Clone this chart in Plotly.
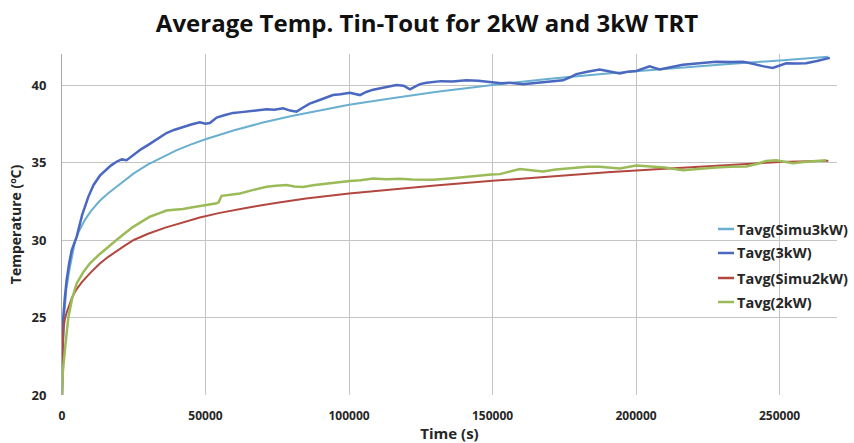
import plotly.graph_objects as go

# Simulated 3 kW response
t_simu3 = [0, 100, 300, 700, 1500, 2500, 3500, 4500, 6000, 8000, 10000, 13000, 16000,
           20000, 25000, 30000, 35000, 40000, 45000, 50000, 60000, 70000, 80000, 90000,
           100000, 115000, 130000, 150000, 170000, 190000, 210000, 230000, 250000, 267000]
T_simu3 = [20.0, 21.6, 23.0, 25.0, 26.8, 28.0, 29.0, 29.9, 30.6, 31.3, 31.85, 32.5, 33.0,
           33.6, 34.3, 34.88, 35.36, 35.8, 36.17, 36.5, 37.08, 37.58, 38.0, 38.38,
           38.72, 39.15, 39.55, 40.0, 40.4, 40.75, 41.05, 41.33, 41.58, 41.82]

# Measured 3 kW response
t_meas3 = [0, 150, 450, 1000, 1600, 2500, 3400, 5100, 7000, 9200, 11000, 13200, 15000,
           17000, 19000, 20800, 22500, 24800, 27500, 30600, 33500, 36400, 39000, 42200,
           45000, 48000, 50000, 51500, 53900, 56500, 59600, 62500, 65500, 68500, 71300,
           74000, 77000, 79500, 81700, 84000, 86300, 90000, 94400, 97000, 100300, 103800,
           106000, 108400, 112000, 116500, 119000, 121200, 123000, 124700, 127000, 132000,
           136000, 140900, 145000, 149600, 153000, 156000, 160600, 164000, 169900, 174500,
           177000, 179200, 183000, 187300, 190000, 194300, 197000, 200100, 204700, 208200,
           212000, 216300, 222000, 227900, 233000, 237200, 239500, 241800, 244500, 247600,
           250000, 252300, 256000, 259200, 263000, 266200, 267500]
T_meas3 = [20.0, 23.0, 25.05, 26.3, 27.4, 28.5, 29.35, 30.2, 31.6, 32.8, 33.55, 34.15, 34.45,
           34.8, 35.05, 35.2, 35.15, 35.5, 35.85, 36.2, 36.55, 36.9, 37.1, 37.3,
           37.45, 37.6, 37.5, 37.55, 37.9, 38.05, 38.2, 38.25, 38.3, 38.35, 38.43,
           38.4, 38.5, 38.35, 38.28, 38.55, 38.8, 39.05, 39.35, 39.4, 39.5, 39.35,
           39.55, 39.7, 39.85, 40.0, 39.95, 39.72, 39.9, 40.06, 40.15, 40.25,
           40.22, 40.3, 40.28, 40.2, 40.12, 40.15, 40.05, 40.12, 40.2, 40.3,
           40.5, 40.7, 40.85, 41.0, 40.9, 40.75, 40.85, 40.9, 41.2, 41.0,
           41.15, 41.3, 41.4, 41.5, 41.48, 41.5, 41.42, 41.3, 41.2, 41.1,
           41.25, 41.4, 41.38, 41.4, 41.55, 41.68, 41.75]

# Simulated 2 kW response
t_simu2 = [0, 50, 150, 300, 600, 1000, 1600, 2500, 3500, 5000, 7000, 9700, 13000, 16000,
           19000, 22000, 25000, 30000, 36000, 42000, 48000, 55000, 65000, 75000, 85000,
           100000, 115000, 130000, 150000, 170000, 190000, 210000, 230000, 250000, 267000]
T_simu2 = [20.0, 21.5, 22.6, 23.5, 24.4, 24.9, 25.3, 25.8, 26.3, 26.8, 27.3, 27.85, 28.45, 28.9,
           29.3, 29.65, 30.0, 30.4, 30.8, 31.15, 31.45, 31.75, 32.1, 32.4, 32.68,
           33.0, 33.28, 33.52, 33.82, 34.1, 34.37, 34.6, 34.82, 35.03, 35.12]

# Measured 2 kW response
t_meas2 = [0, 300, 1000, 2200, 3500, 5100, 7500, 9750, 13200, 16000, 19000, 22000, 24800,
           27500, 30600, 33500, 36400, 39000, 42200, 45000, 48000, 51000, 53900, 54600,
           55600, 58000, 62000, 66000, 71300, 74500, 78200, 81000, 84000, 88000, 92200,
           96000, 100300, 104000, 108400, 113000, 117700, 122000, 126000, 129300, 135100,
           140900, 146700, 149600, 152500, 156000, 159500, 163500, 167500, 172000, 176000,
           179200, 183000, 187300, 191000, 194300, 200100, 205000, 210000, 216300, 222000,
           227900, 233000, 238400, 242000, 245300, 248800, 251500, 254600, 259200, 263000,
           266200]
T_meas2 = [20.0, 21.5, 22.9, 25.0, 26.2, 27.2, 27.95, 28.5, 29.1, 29.55, 30.0, 30.45, 30.85,
           31.15, 31.5, 31.7, 31.9, 31.95, 32.0, 32.1, 32.2, 32.3, 32.37, 32.45,
           32.85, 32.9, 33.0, 33.2, 33.44, 33.5, 33.55, 33.45, 33.42, 33.55, 33.65,
           33.72, 33.8, 33.85, 33.97, 33.92, 33.95, 33.9, 33.88, 33.88, 33.97,
           34.08, 34.2, 34.22, 34.25, 34.4, 34.58, 34.5, 34.42, 34.55, 34.62,
           34.7, 34.72, 34.72, 34.65, 34.62, 34.8, 34.75, 34.68, 34.5, 34.6,
           34.67, 34.72, 34.75, 34.9, 35.1, 35.15, 35.05, 34.95, 35.05, 35.1,
           35.15]

series_names = ["Tavg(Simu3kW)", "Tavg(3kW)", "Tavg(Simu2kW)", "Tavg(2kW)"]
series_colors = ["#6aafd0", "#4a68c0", "#b2473f", "#9bbb59"]
series_widths = [2, 2.5, 2, 2.5]
series_data = [(t_simu3, T_simu3), (t_meas3, T_meas3), (t_simu2, T_simu2), (t_meas2, T_meas2)]

x_ticks = [0, 50000, 100000, 150000, 200000, 250000]
y_ticks = [20, 25, 30, 35, 40]

FONT = "Open Sans, sans-serif"
TEXT = "#262626"

fig = go.Figure()
for name, color, width, (tx, ty) in zip(series_names, series_colors, series_widths, series_data):
    fig.add_trace(go.Scatter(x=tx, y=ty, mode="lines", name=name,
                             line=dict(color=color, width=width), showlegend=False))

# Plot area geometry in pixels (used to place the hand-built legend)
W, H = 854, 443
ML, MR, MT, MB = 62, 17, 54, 48
pw, ph = W - ML - MR, H - MT - MB


def px_to_paper(px, py):
    return (px - ML) / pw, (H - MB - py) / ph


legend_rows_y = [229, 253, 278, 302]
for name, color, py in zip(series_names, series_colors, legend_rows_y):
    x0, y0 = px_to_paper(718, py)
    x1, _ = px_to_paper(734, py)
    fig.add_shape(type="line", xref="paper", yref="paper", x0=x0, x1=x1, y0=y0, y1=y0,
                  line=dict(color=color, width=2.5))
    tx, _ = px_to_paper(735, py)
    fig.add_annotation(xref="paper", yref="paper", x=tx, y=y0, text="<b>" + name + "</b>",
                       showarrow=False, xanchor="left", yanchor="middle",
                       font=dict(family=FONT, size=14.5, color=TEXT))

fig.update_layout(
    width=W, height=H,
    margin=dict(l=ML, r=MR, t=MT, b=MB, autoexpand=False),
    paper_bgcolor="white", plot_bgcolor="white",
    title=dict(text="<b>Average Temp. Tin-Tout for 2kW and 3kW TRT</b>",
               x=0.5, xanchor="center", y=1 - 24 / H, yanchor="middle",
               font=dict(family=FONT, size=24, color="#111111")),
    xaxis=dict(range=[0, 270000], tickvals=x_ticks, ticktext=["<b>%d</b>" % v for v in x_ticks],
               showgrid=True, gridcolor="#c4c4c4", gridwidth=1, zeroline=False,
               showline=False, ticks="", ticklabelstandoff=12, automargin=False,
               tickfont=dict(family=FONT, size=12, color=TEXT),
               title=dict(text="<b>Time (s)</b>", standoff=8,
                          font=dict(family=FONT, size=15, color=TEXT))),
    yaxis=dict(range=[20, 42], tickvals=y_ticks, ticktext=["<b>%d</b>" % v for v in y_ticks],
               showgrid=True, gridcolor="#c4c4c4", gridwidth=1, zeroline=False,
               showline=True, linecolor="#a8a8a8", linewidth=1, ticks="",
               ticklabelstandoff=12, automargin=False,
               tickfont=dict(family=FONT, size=13, color=TEXT),
               title=dict(text="<b>Temperature (ºC)</b>", standoff=6,
                          font=dict(family=FONT, size=14, color=TEXT))),
)

fig.write_html("out.html")
